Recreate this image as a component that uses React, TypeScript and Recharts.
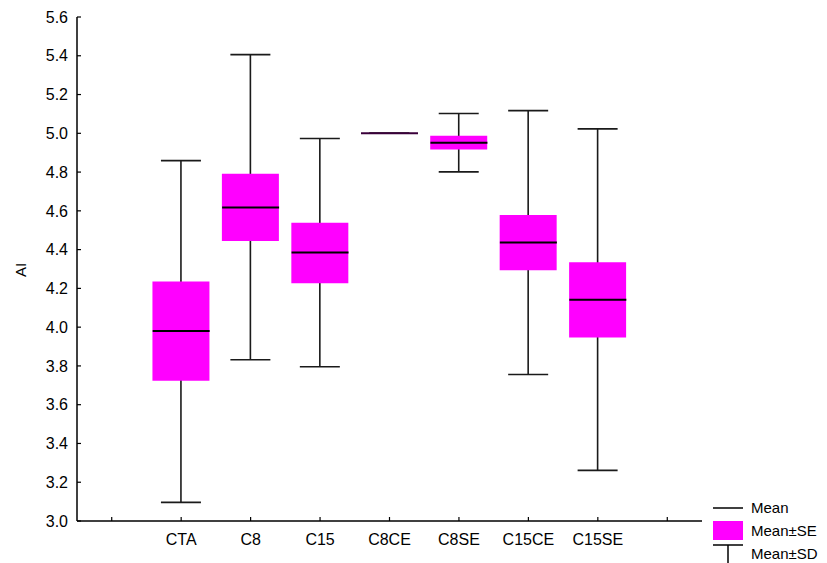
import {
  Bar,
  ComposedChart,
  Scatter,
  XAxis,
  YAxis,
} from 'recharts'

const groups = ['CTA', 'C8', 'C15', 'C8CE', 'C8SE', 'C15CE', 'C15SE']
const means = [3.98, 4.617, 4.385, 5.0, 4.951, 4.437, 4.141]
const seLow = [3.724, 4.444, 4.227, 5.0, 4.916, 4.294, 3.947]
const seHigh = [4.236, 4.792, 4.538, 5.0, 4.987, 4.579, 4.335]
const sdLow = [3.096, 3.832, 3.796, 5.0, 4.801, 3.756, 3.261]
const sdHigh = [4.859, 5.406, 4.973, 5.0, 5.102, 5.117, 5.023]
const yTicks = [3.0, 3.2, 3.4, 3.6, 3.8, 4.0, 4.2, 4.4, 4.6, 4.8, 5.0, 5.2, 5.4, 5.6]

type Row = {
  name: string;
  mean?: number;
  se?: [number, number];
  sd?: [number, number];
}

// empty slots on both ends leave room around the boxes
const rows: Row[] = [
  { name: '' },
  ...groups.map((name, i) => ({
    name,
    mean: means[i],
    se: [seLow[i], seHigh[i]] as [number, number],
    sd: [sdLow[i], sdHigh[i]] as [number, number],
  })),
  { name: ' ' },
]

const FONT = '"Liberation Sans", Arial, sans-serif'
const BOX_W = 57
const CAP_W = 40

// whisker: vertical stem with a cap at each end
const Whisker = (props: any) => {
  const { x, y, width, height } = props
  if (x == null || y == null) return <g />
  const cx = x + width / 2
  const top = Math.min(y, y + height)
  const bottom = Math.max(y, y + height)
  return (
    <g stroke="#1a1a1a" strokeWidth={1.6}>
      <line x1={cx} x2={cx} y1={top} y2={bottom} />
      <line x1={cx - CAP_W / 2} x2={cx + CAP_W / 2} y1={top} y2={top} />
      <line x1={cx - CAP_W / 2} x2={cx + CAP_W / 2} y1={bottom} y2={bottom} />
    </g>
  )
}

const MeanLine = (props: any) => {
  const { cx, cy, payload } = props
  if (cx == null || cy == null || payload?.mean == null) return <g />
  const flat = payload.se && payload.se[0] === payload.se[1]
  return (
    <line
      x1={cx - BOX_W / 2}
      x2={cx + BOX_W / 2}
      y1={cy}
      y2={cy}
      stroke={flat ? '#3a003a' : '#000'}
      strokeWidth={2}
    />
  )
}

const Legend = () => (
  <svg
    width={120}
    height={67}
    style={{ position: 'absolute', left: 707, top: 496, fontFamily: FONT, fontSize: 15 }}
  >
    <line x1={6} x2={36} y1={12} y2={12} stroke="#000" strokeWidth={1.5} />
    <text x={44} y={17}>Mean</text>
    <rect x={6} y={25} width={30} height={19} fill="#ff00ff" />
    <text x={44} y={40}>Mean±SE</text>
    <line x1={6} x2={36} y1={49} y2={49} stroke="#000" strokeWidth={1.5} />
    <line x1={21} x2={21} y1={49} y2={67} stroke="#000" strokeWidth={1.5} />
    <text x={44} y={63}>Mean±SD</text>
  </svg>
)

export default function App() {
  return (
    <div style={{ position: 'absolute', left: 0, top: 0, width: 827, height: 563, background: '#fff' }}>
      <ComposedChart
        width={827}
        height={563}
        data={rows}
        margin={{ top: 17, right: 125, bottom: 11, left: 0 }}
        barGap={0}
        style={{ fontFamily: FONT }}
      >
        <XAxis
          dataKey="name"
          xAxisId="bottom"
          height={31}
          interval={0}
          tickSize={-4}
          tickMargin={17}
          axisLine={{ stroke: '#000', strokeWidth: 1.5 }}
          tickLine={{ stroke: '#000', strokeWidth: 1.2 }}
          tick={{ fill: '#000', fontSize: 16 }}
        />
        <XAxis dataKey="name" xAxisId="boxes" hide />
        <XAxis
          dataKey="name"
          xAxisId="top"
          orientation="top"
          height={0}
          interval={0}
          tickSize={-4}
          tickFormatter={() => ''}
          axisLine={{ stroke: '#000', strokeWidth: 1.5 }}
          tickLine={{ stroke: '#000', strokeWidth: 1.2 }}
        />
        <YAxis
          yAxisId="left"
          width={77}
          domain={[3, 5.6]}
          ticks={yTicks}
          interval={0}
          tickSize={-4}
          tickMargin={13}
          tickFormatter={(v: number) => v.toFixed(1)}
          axisLine={{ stroke: '#000', strokeWidth: 1.5 }}
          tickLine={{ stroke: '#000', strokeWidth: 1.2 }}
          tick={{ fill: '#000', fontSize: 16 }}
          label={{
            content: () => (
              <text
                x={26}
                y={270}
                transform="rotate(-90 26 270)"
                textAnchor="middle"
                fontSize={15}
                fill="#000"
              >
                AI
              </text>
            ),
          }}
        />
        <YAxis
          yAxisId="right"
          orientation="right"
          width={0}
          domain={[3, 5.6]}
          ticks={yTicks}
          interval={0}
          tickSize={-4}
          tickFormatter={() => ''}
          axisLine={{ stroke: '#000', strokeWidth: 1.5 }}
          tickLine={{ stroke: '#000', strokeWidth: 1.2 }}
        />
        <Bar
          dataKey="sd"
          xAxisId="bottom"
          yAxisId="left"
          barSize={BOX_W}
          shape={Whisker}
          isAnimationActive={false}
        />
        <Bar
          dataKey="se"
          xAxisId="boxes"
          yAxisId="left"
          barSize={BOX_W}
          fill="#ff00ff"
          isAnimationActive={false}
        />
        <Scatter
          dataKey="mean"
          xAxisId="bottom"
          yAxisId="left"
          shape={MeanLine}
          isAnimationActive={false}
        />
      </ComposedChart>
      <Legend />
    </div>
  )
}
